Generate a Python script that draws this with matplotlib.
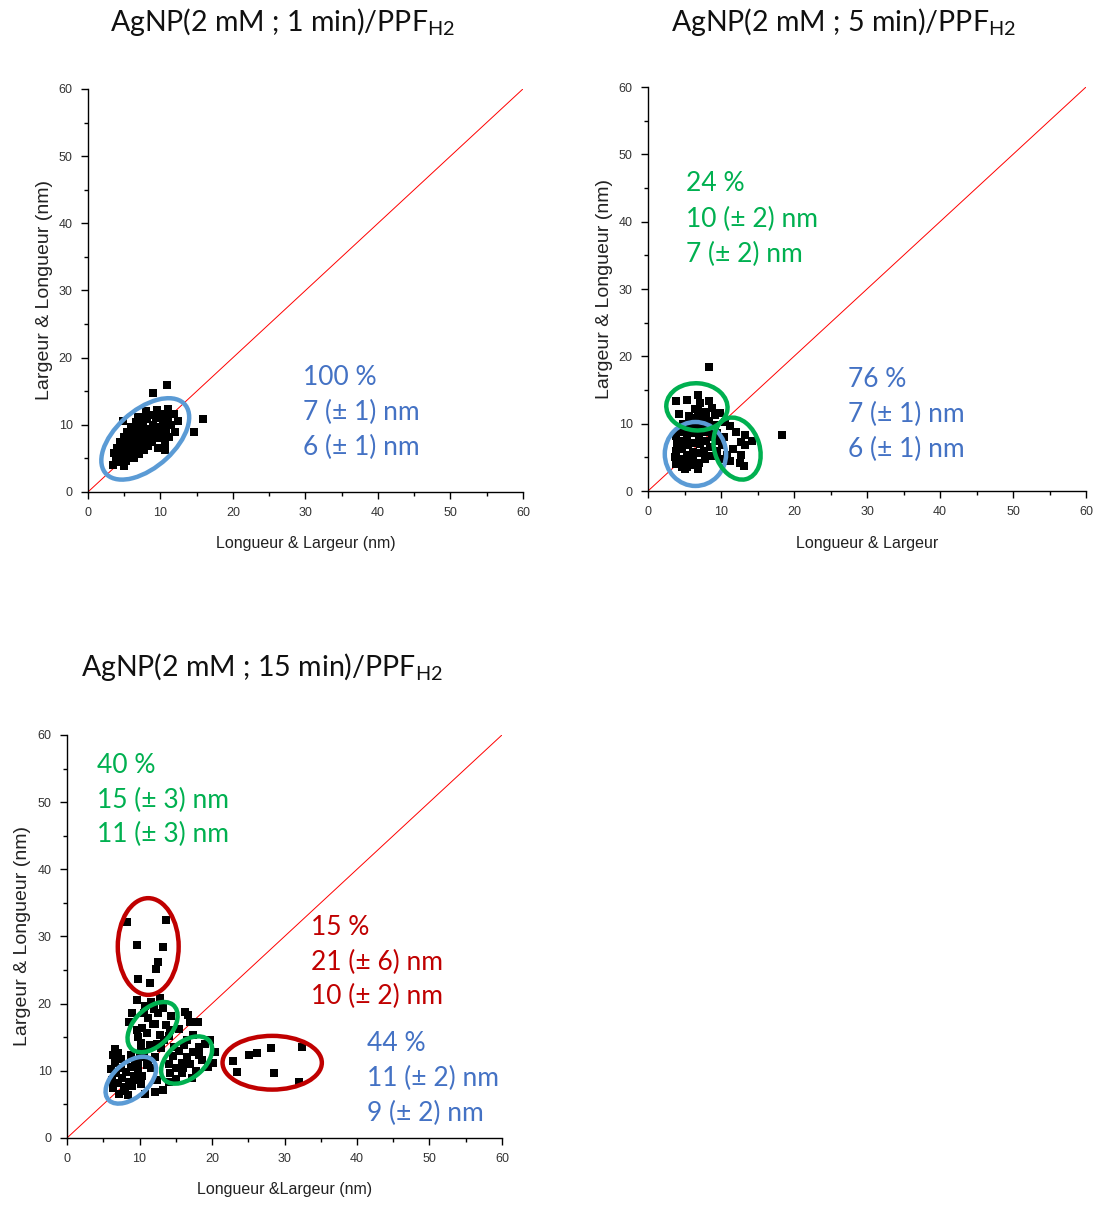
import matplotlib
matplotlib.use("Agg")
import matplotlib.pyplot as plt
from matplotlib.patches import Ellipse
from matplotlib.ticker import MultipleLocator
import numpy as np

plt.rcParams['font.family'] = ['Liberation Sans', 'DejaVu Sans']
plt.rcParams['mathtext.fontset'] = 'custom'
plt.rcParams['mathtext.rm'] = 'Lato'

# --- data: (Longueur, Largeur) pairs, in nm ---
p1_x = [3.5, 3.8, 4.0, 4.2, 4.5, 4.6, 4.8, 5.0, 5.2, 5.3, 5.5, 5.6, 5.8, 6.0, 6.1, 6.2, 6.4,
        6.5, 6.6, 6.8, 7.0, 7.1, 7.2, 7.4, 7.6, 7.7, 7.8, 8.0, 8.2, 8.3, 8.4, 8.6, 8.8, 8.9,
        9.0, 9.2, 9.4, 9.5, 9.6, 9.8, 10.0, 10.2, 10.4, 10.6, 10.8, 11.0, 11.2, 11.4, 11.8, 12.0,
        4.0, 4.4, 5.0, 5.4, 6.0, 6.6, 3.6, 4.9, 6.9, 7.4, 9.5, 11.0, 8.0, 10.6, 12.4, 5.6,
        4.8, 10.9, 9.0, 15.9, 14.6]
p1_y = [4.0, 5.0, 4.4, 5.6, 4.8, 6.2, 5.2, 6.8, 5.8, 4.6, 7.4, 6.4, 5.4, 8.0, 7.0, 6.0, 5.0,
        8.6, 7.6, 6.6, 9.3, 5.6, 8.2, 7.2, 10.0, 6.2, 8.8, 7.8, 10.8, 6.8, 9.4, 8.4, 11.4, 7.4,
        10.0, 9.0, 11.0, 8.0, 6.6, 9.6, 11.6, 8.6, 10.4, 7.4, 9.4, 11.2, 8.2, 10.0, 11.6, 9.0,
        6.6, 7.4, 8.2, 9.0, 9.6, 10.4, 5.8, 3.9, 11.2, 11.0, 12.2, 12.4, 12.0, 6.2, 10.6, 8.6,
        10.5, 15.9, 14.8, 10.8, 9.0]

p2_x = [3.9, 5.3, 6.9, 7.1, 8.3, 7.8, 4.2, 5.6, 6.4, 8.8, 9.2, 6.8,
        3.8, 3.7, 3.9, 4.0, 3.8, 4.6, 4.5, 4.7, 4.6, 4.4, 4.8, 4.5, 5.4, 5.3, 5.5, 5.4, 5.2,
        5.6, 5.4, 6.2, 6.1, 6.3, 6.2, 6.0, 6.4, 6.2, 7.0, 6.9, 7.1, 7.0, 6.8, 7.2, 7.0,
        7.8, 7.7, 7.9, 7.8, 7.6, 8.0, 8.6, 8.5, 8.7, 8.6, 8.4, 9.4, 9.3, 9.5, 9.2, 6.8, 5.0,
        11.2, 12.1, 13.3, 12.8, 13.3, 12.8, 12.6, 11.7, 11.2, 10.4, 10.6, 10.2, 10.8, 14.2,
        13.1, 9.9, 10.0,
        8.3, 18.4]
p2_y = [13.3, 13.5, 14.3, 13.1, 13.3, 11.8, 11.5, 11.2, 12.2, 12.4, 11.3, 12.0,
        4.0, 5.0, 6.0, 7.0, 8.2, 3.6, 4.8, 6.2, 7.4, 8.8, 10.0, 9.4, 4.2, 5.4, 6.8, 8.0, 9.2,
        10.4, 3.5, 4.6, 5.8, 7.2, 8.6, 9.8, 10.8, 3.8, 4.2, 5.6, 7.0, 8.2, 9.4, 10.6, 11.0,
        4.8, 6.0, 7.4, 8.8, 10.0, 11.2, 5.2, 6.6, 8.0, 9.2, 10.4, 6.0, 7.4, 8.6, 9.8, 3.2, 3.3,
        9.6, 8.8, 8.3, 7.3, 6.8, 5.3, 4.1, 6.3, 4.4, 8.0, 10.2, 6.8, 5.4, 7.4,
        3.7, 11.6, 4.8,
        18.4, 8.3]

p3_x = [8.3, 13.7, 9.6, 13.3, 12.6, 12.3, 9.8, 11.4,
        22.9, 23.4, 25.1, 26.2, 28.1, 28.6, 32.4, 32.0,
        8.9, 8.5, 9.6, 12.8, 16.3, 17.0, 6.6, 6.4, 12.1, 13.3, 20.2, 20.4, 18.1, 16.7, 19.7,
        9.8, 10.4, 11.2, 12.0, 12.8, 13.6, 14.4, 10.2, 11.0, 11.8, 12.6, 13.4, 14.2, 10.8, 11.6,
        12.4, 13.2, 14.0, 9.6, 10.6, 11.4, 12.2, 13.0,
        14.2, 15.0, 15.8, 16.6, 17.4, 18.2, 19.0, 14.6, 15.4, 16.2, 17.0, 17.8, 18.6, 15.0, 15.8,
        16.6, 17.4, 18.2, 14.0, 14.8, 16.0, 17.2, 19.4,
        6.4, 7.0, 7.6, 8.2, 8.8, 9.4, 10.0, 10.6, 11.2, 6.8, 7.4, 8.0, 8.6, 9.2, 9.8, 10.4, 11.0,
        7.2, 7.8, 8.4, 9.0, 9.6, 10.2, 6.0, 6.6, 7.4, 8.8, 9.8, 11.6, 12.4, 7.0, 6.2, 10.8, 14.0,
        15.4, 12.2, 10.2]
p3_y = [32.2, 32.5, 28.7, 28.4, 26.2, 25.1, 23.6, 23.0,
        11.5, 9.8, 12.4, 12.6, 13.4, 9.6, 13.6, 8.3,
        18.6, 17.3, 20.5, 20.8, 18.8, 17.3, 13.3, 12.4, 6.9, 7.1, 11.1, 12.8, 17.3, 18.3, 14.6,
        15.0, 16.4, 17.8, 19.2, 15.4, 16.8, 18.2, 14.2, 15.6, 17.0, 18.6, 14.6, 16.0, 19.6, 20.2,
        14.0, 19.4, 15.2, 16.0, 18.6, 13.8, 17.0, 13.4,
        9.6, 10.4, 11.2, 12.0, 12.8, 13.6, 14.0, 12.2, 13.0, 13.8, 11.0, 10.0, 11.6, 8.8, 9.6,
        14.6, 15.4, 12.4, 11.0, 13.6, 10.4, 9.0, 10.6,
        7.4, 8.2, 9.0, 9.8, 10.6, 11.4, 12.0, 12.8, 11.6, 9.6, 10.4, 7.6, 8.4, 9.2, 10.0, 9.2, 10.8,
        6.6, 7.0, 6.4, 7.8, 8.6, 8.0, 10.2, 11.2, 11.8, 12.4, 11.0, 10.4, 8.6, 12.6, 8.6, 6.6, 8.4,
        16.2, 12.0, 13.0]

BLUE_TXT = '#4472C4'
GREEN = '#00B050'
RED = '#C00000'
BLUE_RING = '#5B9BD5'

fig = plt.figure(figsize=(10.97, 12.07), dpi=100)
ax1 = fig.add_axes([0.0802, 0.5924, 0.3965, 0.3339])
ax2 = fig.add_axes([0.5907, 0.5932, 0.3993, 0.3347])
ax3 = fig.add_axes([0.0611, 0.0572, 0.3965, 0.3339])


def style(ax, xlabel, ylabel, lx, ly):
    ax.set_xlim(0, 60)
    ax.set_ylim(0, 60)
    for s in ['top', 'right']:
        ax.spines[s].set_visible(False)
    for s in ['left', 'bottom']:
        ax.spines[s].set_linewidth(1.0)
    ax.xaxis.set_major_locator(MultipleLocator(10))
    ax.yaxis.set_major_locator(MultipleLocator(10))
    ax.xaxis.set_minor_locator(MultipleLocator(5))
    ax.yaxis.set_minor_locator(MultipleLocator(5))
    ax.tick_params(which='major', direction='out', length=5, width=1, labelsize=9,
                   labelcolor='#333333', pad=6)
    ax.tick_params(which='minor', direction='out', length=3, width=1)
    ax.set_xlabel(xlabel, fontsize=11.5, va='center', color='#222222')
    ax.set_ylabel(ylabel, fontsize=14, va='center', color='#222222')
    ax.xaxis.set_label_coords(0.5, lx)
    ax.yaxis.set_label_coords(ly, 0.5)
    ax.plot([0, 60], [0, 60], color='red', lw=0.7, zorder=2)


def ring(ax, cx, cy, w, h, ang, color):
    ax.add_patch(Ellipse((cx, cy), w, h, angle=ang, fill=False, ec=color, lw=3.2, zorder=4))


def label(ax, x, ys, lines, color):
    for y, t in zip(ys, lines):
        ax.text(x, y, t, color=color, fontsize=19, family='Lato', va='center', ha='left')


style(ax1, 'Longueur & Largeur (nm)', 'Largeur & Longueur (nm)', -0.127, -0.101)
style(ax2, 'Longueur & Largeur', 'Largeur & Longueur (nm)', -0.129, -0.100)
style(ax3, 'Longueur &Largeur (nm)', 'Largeur & Longueur (nm)', -0.127, -0.103)

for ax, xs, ys in [(ax1, p1_x, p1_y), (ax2, p2_x, p2_y), (ax3, p3_x, p3_y)]:
    ax.scatter(xs, ys, marker='s', s=28, color='black', linewidths=0, zorder=3)

ring(ax1, 7.9, 7.9, 15.0, 8.3, 45, BLUE_RING)
label(ax1, 29.7, [17.1, 11.8, 6.7], ['100 %', '7 (± 1) nm', '6 (± 1) nm'], BLUE_TXT)

ring(ax2, 6.5, 5.5, 8.4, 9.5, 0, BLUE_RING)
ring(ax2, 6.7, 12.5, 8.4, 7.0, -5, GREEN)
ring(ax2, 12.2, 6.3, 6.2, 9.4, 15, GREEN)
label(ax2, 5.2, [45.6, 40.3, 35.2], ['24 %', '10 (± 2) nm', '7 (± 2) nm'], GREEN)
label(ax2, 27.4, [16.6, 11.3, 6.2], ['76 %', '7 (± 1) nm', '6 (± 1) nm'], BLUE_TXT)

ring(ax3, 11.2, 28.5, 8.4, 14.4, 0, RED)
ring(ax3, 28.3, 11.2, 13.7, 8.0, 0, RED)
ring(ax3, 11.8, 16.5, 8.7, 5.3, 50, GREEN)
ring(ax3, 16.5, 11.6, 8.5, 5.2, 45, GREEN)
ring(ax3, 8.8, 8.6, 8.5, 5.0, 45, BLUE_RING)
label(ax3, 4.1, [55.5, 50.3, 45.2], ['40 %', '15 (± 3) nm', '11 (± 3) nm'], GREEN)
label(ax3, 33.7, [31.4, 26.2, 21.1], ['15 %', '21 (± 6) nm', '10 (± 2) nm'], RED)
label(ax3, 41.4, [14.1, 8.8, 3.7], ['44 %', '11 (± 2) nm', '9 (± 2) nm'], BLUE_TXT)

titles = [('AgNP(2 mM ; 1 min)/PPF$_{\\mathrm{H2}}$', 0.258, 0.982),
          ('AgNP(2 mM ; 5 min)/PPF$_{\\mathrm{H2}}$', 0.769, 0.982),
          ('AgNP(2 mM ; 15 min)/PPF$_{\\mathrm{H2}}$', 0.239, 0.4474)]
for t, x, y in titles:
    fig.text(x, y, t, fontsize=20.5, family='Lato', ha='center', va='center', color='#111111')

fig.savefig('out.png', dpi=100, facecolor='white')
